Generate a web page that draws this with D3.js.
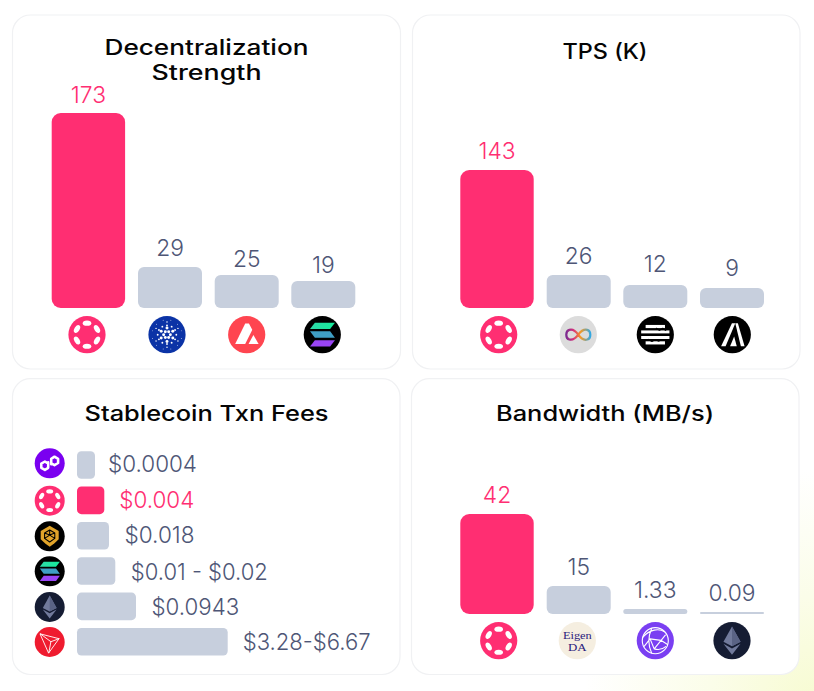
<!DOCTYPE html>
<html><head><meta charset="utf-8">
<script src="https://cdn.jsdelivr.net/npm/d3@7"></script>
<style>html,body{margin:0;padding:0;background:#fff}svg{display:block}</style>
</head><body>
<svg id="c" width="814" height="691"></svg>
<script>
// ---- data ----
const decentralNames = ["Polkadot","Cardano","Avalanche","Solana"];
const decentralValues = [173,29,25,19];
const tpsNames = ["Polkadot","ICP","Aptos","Algorand"];
const tpsValues = [143,26,12,9];
const bandwidthNames = ["Polkadot","EigenDA","Avail","Ethereum"];
const bandwidthValues = [42,15,1.33,0.09];
const bandwidthLabels = ["42","15","1.33","0.09"];
const feeNames = ["Polygon","Polkadot","BNB","Solana","Ethereum","Tron"];
const feeLabels = ["$0.0004","$0.004","$0.018","$0.01 - $0.02","$0.0943","$3.28-$6.67"];
const feeUpperValues = [0.0004,0.004,0.018,0.02,0.0943,6.67];

const PINK="#ff2e72", GREY="#c7cfdd", TXT="#4e5676";
const svg=d3.select("#c");
const defs=svg.append("defs");

const bg=defs.append("radialGradient").attr("id","bgGrad").attr("gradientUnits","userSpaceOnUse")
  .attr("cx",814).attr("cy",700).attr("r",230);
bg.append("stop").attr("offset",0).attr("stop-color","#f7fbd2");
bg.append("stop").attr("offset",0.45).attr("stop-color","#fbfde9");
bg.append("stop").attr("offset",1).attr("stop-color","#ffffff");
const sol=defs.append("linearGradient").attr("id","solGrad").attr("x1",0).attr("y1",0).attr("x2",1).attr("y2",0);
sol.append("stop").attr("offset",0).attr("stop-color","#2fd8a8");
sol.append("stop").attr("offset",1).attr("stop-color","#14ee9c");
const icp=defs.append("linearGradient").attr("id","icpGrad").attr("x1",0).attr("y1",0).attr("x2",1).attr("y2",0);
icp.append("stop").attr("offset",0).attr("stop-color","#7a2a90");
icp.append("stop").attr("offset",0.3).attr("stop-color","#d8307a");
icp.append("stop").attr("offset",0.6).attr("stop-color","#f59a25");
icp.append("stop").attr("offset",1).attr("stop-color","#35a8e0");

svg.append("rect").attr("width",814).attr("height",691).attr("fill","url(#bgGrad)");

// ---- icons (drawn in a unit circle of radius 100) ----
function disc(g,c){g.append("circle").attr("r",100).attr("fill",c);}
function path(g,d,fill,stroke,sw){g.append("path").attr("d",d).attr("fill",fill||"none")
  .attr("stroke",stroke||"none").attr("stroke-width",sw||0).attr("stroke-linejoin","round").attr("stroke-linecap","round");}
const icons={
 Polkadot(g){disc(g,PINK);
  d3.range(6).forEach(i=>g.append("ellipse").attr("rx",23).attr("ry",14)
   .attr("transform",`rotate(${i*60}) translate(0,-62)`).attr("fill","#fff"));},
 Cardano(g){disc(g,"#0b33a6");
  [[6,18,8,0],[6,36,8,30],[12,50,5,0],[6,68,4,30],[12,80,2.5,15]].forEach(([n,r,s,o])=>{
   d3.range(n).forEach(i=>{const a=(i*360/n+o)*Math.PI/180;
    g.append("circle").attr("cx",r*Math.cos(a)).attr("cy",r*Math.sin(a)).attr("r",s).attr("fill","#fff");});});},
 Avalanche(g){disc(g,"#ff4550");
  path(g,"M-8,-60 L12,-60 L30,-26 L-8,50 L-62,50 Z","#fff");
  path(g,"M36,2 L64,50 L10,50 Z","#fff");},
 Solana(g){disc(g,"#000");
  path(g,"M-40,-64 L68,-64 L42,-30 L-66,-30 Z","url(#solGrad)");
  path(g,"M-66,-18 L42,-18 L68,16 L-40,16 Z","#3f9fc4");
  path(g,"M-40,30 L68,30 L42,64 L-66,64 Z","#9a45f5");},
 ICP(g){disc(g,"#dcdcdc");
  path(g,"M0,0 C-18,-26 -34,-30 -48,-26 C-70,-20 -70,20 -48,26 C-32,30 -16,22 0,0 C16,-22 32,-30 48,-26 C70,-20 70,20 48,26 C34,30 18,26 0,0 Z","none","url(#icpGrad)",12);},
 Aptos(g){disc(g,"#000");
  [[-52,-44,52,17],[-76,-15,76,16],[-76,15,76,16],[-52,44,52,17]].forEach(([x1,y,x2,w])=>
   g.append("line").attr("x1",x1).attr("x2",x2).attr("y1",y).attr("y2",y).attr("stroke","#fff").attr("stroke-width",w));
  path(g,"M6,-34 L22,-24 L40,-34 L56,-24","none","#000",7);
  path(g,"M-36,26 L-18,36 L0,26 L20,34","none","#000",7);},
 Algorand(g){disc(g,"#000");
  path(g,"M-60,62 L-2,-62 L16,-62 L-36,62 Z","#fff");
  path(g,"M16,-62 L30,-62 L66,62 L46,62 Z","#fff");
  path(g,"M-12,62 L10,10 L24,62 Z","#fff");},
 Polygon(g){disc(g,"#7a00f0");
  path(g,"M-10,-6 L-10,30 L-32,44 L-56,30 L-56,2 L-32,-12 L-20,-5","none","#fff",17);
  path(g,"M10,6 L10,-30 L32,-44 L56,-30 L56,-2 L32,12 L20,5","none","#fff",17);},
 BNB(g){disc(g,"#000");
  path(g,"M0,-70 L60,-36 L60,20 L30,48 L0,70 L-30,48 L-60,20 L-60,-36 Z","#e2a42a");
  path(g,"M0,-42 L34,-22 L34,14 L0,38 L-34,14 L-34,-22 Z M0,-42 L0,-8 M-34,-22 L0,-8 L34,-22 M-34,14 L0,-8 L34,14","none","#000",7);},
 Ethereum(g){disc(g,"#151c33");
  path(g,"M0,-76 L-46,6 L0,30 L46,6 Z","#717a9c");
  path(g,"M0,-76 L0,30 L46,6 Z","#5a6385");
  path(g,"M0,42 L-46,16 L0,76 L46,16 Z","#717a9c");},
 Tron(g){disc(g,"#ef1b2f");
  path(g,"M-62,-54 L62,-22 L-6,72 Z M-62,-54 L8,-2 L-6,72 M8,-2 L62,-22","none","#fff",6);},
 Avail(g){disc(g,"#7a3ff2");
  g.append("circle").attr("r",70).attr("fill","none").attr("stroke","#fff").attr("stroke-width",6);
  path(g,"M-68,-18 C-30,-62 20,-68 50,-48 M-60,30 L-28,-10 L-6,44 L54,-30 M-28,-10 L30,-2 L66,20 M-6,44 C16,50 40,46 56,32 M-20,-66 C-40,-20 -36,30 -20,66","none","#fff",6);},
 EigenDA(g){disc(g,"#f5eee0");
  g.append("text").attr("x",0).attr("y",-10).attr("text-anchor","middle").attr("font-family","Liberation Serif")
   .attr("font-size",54).attr("fill","#2a1a7c").attr("textLength",155).attr("lengthAdjust","spacingAndGlyphs").text("Eigen");
  g.append("text").attr("x",0).attr("y",54).attr("text-anchor","middle").attr("font-family","Liberation Serif")
   .attr("font-size",54).attr("fill","#2a1a7c").attr("textLength",100).attr("lengthAdjust","spacingAndGlyphs").text("DA");}
};
function icon(name,cx,cy,r){
  const g=svg.append("g").attr("class","icon").attr("transform",`translate(${cx},${cy}) scale(${r/100})`);
  icons[name](g);
}

// ---- text helpers ----
function title(text,cx,y,w){
  svg.append("text").attr("x",cx).attr("y",y).attr("text-anchor","middle")
    .attr("font-family","Inter").attr("font-weight",500).attr("font-size",21).attr("fill","#050505")
    .attr("textLength",w).attr("lengthAdjust","spacingAndGlyphs").text(text);
}
function valueText(text,x,y,anchor,color,len){
  const t=svg.append("text").attr("x",x).attr("y",y).attr("text-anchor",anchor)
    .attr("font-family","Inter").attr("font-weight",300).attr("font-size",22.8).attr("fill",color).text(text);
  if(len) t.attr("textLength",len).attr("lengthAdjust","spacingAndGlyphs");
}
function panel(x0,y0,x1,y1){
  svg.append("rect").attr("x",x0).attr("y",y0).attr("width",x1-x0).attr("height",y1-y0).attr("rx",18)
    .attr("fill","#fff").attr("stroke","#f0f1f3").attr("stroke-width",1.2);
}

panel(12.5,15,400.5,369);
panel(412.5,15,800,369);
panel(12.5,378.7,400,674.5);
panel(411.5,378.7,799,674.5);

title("Decentralization",206.5,54.7,204);
title("Strength",206.5,80,110);
title("TPS (K)",605,59,85);
title("Stablecoin Txn Fees",206.5,420.7,244);
title("Bandwidth (MB/s)",605,420.7,218);

// ---- vertical bar panels ----
function columns(names,values,labels,baseY,barCentres,iconCentres,iconY,heights,gaps){
  const x=d3.scaleOrdinal(names,barCentres);
  const ix=d3.scaleOrdinal(names,iconCentres);
  // The reference's bars are not proportional to their labels, so the scale is piecewise.
  const pairs=d3.zip(values,heights).sort((a,b)=>d3.ascending(a[0],b[0]));
  const y=d3.scaleLinear().domain([0,...pairs.map(p=>p[0])]).range([baseY,...pairs.map(p=>baseY-p[1])]);
  const w=d3.scaleOrdinal(names,names.map((n,i)=>i===0?73.4:64));
  names.forEach((n,i)=>{
    const v=values[i], top=y(v), bw=w(n), h=baseY-top;
    svg.append("rect").attr("class","bar").attr("x",x(n)-bw/2).attr("y",top).attr("width",bw).attr("height",h)
      .attr("rx",Math.min(i===0?9:6,h/2)).attr("fill",i===0?PINK:GREY);
    valueText(labels[i],x(n),top-gaps[i],"middle",i===0?PINK:TXT);
    icon(n,ix(n),iconY,18.6);
  });
}
columns(decentralNames,decentralValues,decentralValues.map(String),308,[88.4,170,246.7,323.3],[87,167,246.7,322.3],334.7,[195,41,33,27],[10.5,11,8.5,8.5]);
columns(tpsNames,tpsValues,tpsValues.map(String),308,[497,578.7,655.3,732],[498.7,578.3,655.3,732.3],334.7,[138,33,23,20],[11.5,11.5,13,12]);
columns(bandwidthNames,bandwidthValues,bandwidthLabels,614,[497,578.7,655.3,732],[498.7,577.3,655.3,732],640.7,[100,28,5,2],[10.6,11.3,11.3,11]);

// ---- horizontal fee bars ----
const feeX=d3.scaleLinear().domain([0,...feeUpperValues]).range([77,95,104.3,109,115.3,136,227.7]);
const feeY=d3.scalePoint().domain(feeNames).range([465,641.7]);
const feeIconY=d3.scaleOrdinal(feeNames,[463.3,500.7,536.3,571.3,607,642]);
const feeGaps=[13,15,15.5,15.5,15.5,15];
const feeDrop=[6.8,7.6,7.3,8.8,8.4,8.3];
const feeTextWidths=[89,75,70,137,87.7,128];
feeNames.forEach((n,i)=>{
  const pink=n==="Polkadot", end=feeX(feeUpperValues[i]), c=feeY(n);
  svg.append("rect").attr("class","bar").attr("x",feeX(0)).attr("y",c-13.8).attr("width",end-feeX(0)).attr("height",27.6)
    .attr("rx",4.5).attr("fill",pink?PINK:GREY);
  valueText(feeLabels[i],end+feeGaps[i],c+feeDrop[i],"start",pink?PINK:TXT,feeTextWidths[i]);
  icon(n,49.7,feeIconY(n),15);
});
</script>
</body></html>
